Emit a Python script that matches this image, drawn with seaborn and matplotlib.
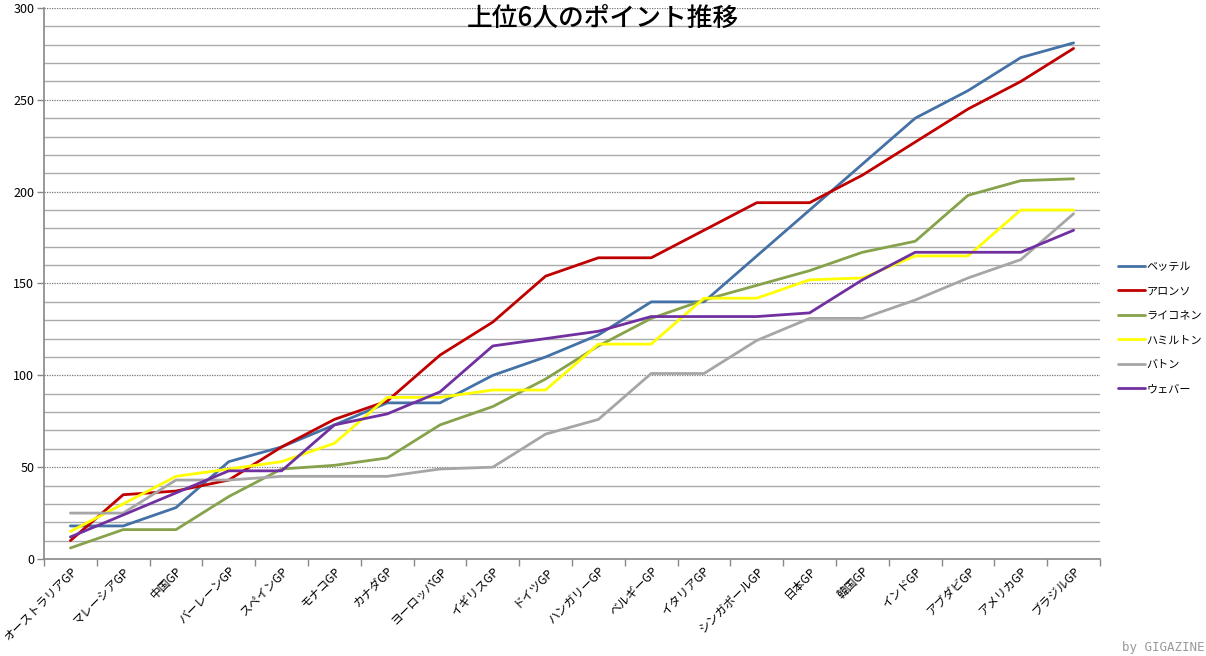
import matplotlib
matplotlib.use("Agg")
import matplotlib.pyplot as plt
from matplotlib.ticker import MultipleLocator, FixedLocator
from matplotlib.lines import Line2D
import seaborn as sns
import pandas as pd

races = ["オーストラリアGP", "マレーシアGP", "中国GP", "バーレーンGP", "スペインGP", "モナコGP",
         "カナダGP", "ヨーロッパGP", "イギリスGP", "ドイツGP", "ハンガリーGP", "ベルギーGP",
         "イタリアGP", "シンガポールGP", "日本GP", "韓国GP", "インドGP", "アブダビGP",
         "アメリカGP", "ブラジルGP"]

drivers = ["ベッテル", "アロンソ", "ライコネン", "ハミルトン", "バトン", "ウェバー"]

vettel = [18, 18, 28, 53, 61, 73, 85, 85, 100, 110, 122, 140, 140, 165, 190, 215, 240, 255, 273, 281]
alonso = [10, 35, 37, 43, 61, 76, 86, 111, 129, 154, 164, 164, 179, 194, 194, 209, 227, 245, 260, 278]
raikkonen = [6, 16, 16, 34, 49, 51, 55, 73, 83, 98, 116, 131, 141, 149, 157, 167, 173, 198, 206, 207]
hamilton = [15, 30, 45, 49, 53, 63, 88, 88, 92, 92, 117, 117, 142, 142, 152, 153, 165, 165, 190, 190]
button = [25, 25, 43, 43, 45, 45, 45, 49, 50, 68, 76, 101, 101, 119, 131, 131, 141, 153, 163, 188]
webber = [12, 24, 36, 48, 48, 73, 79, 91, 116, 120, 124, 132, 132, 132, 134, 152, 167, 167, 167, 179]

colors = ["#4471A6", "#C00000", "#86A24A", "#FFFF00", "#A6A6A6", "#7030A0"]

series = [vettel, alonso, raikkonen, hamilton, button, webber]
rows = []
for d, vals in zip(drivers, series):
    for i, v in enumerate(vals):
        rows.append({"race": i, "driver": d, "points": v})
df = pd.DataFrame(rows)

sns.set_theme(style="white")
plt.rcParams["font.family"] = ["Noto Sans CJK JP", "DejaVu Sans"]

fig = plt.figure(figsize=(12.06, 6.56), dpi=100)
ax = fig.add_axes([44 / 1206, 97 / 656, (1100 - 44) / 1206, (559 - 8) / 656])

sns.lineplot(data=df, x="race", y="points", hue="driver", hue_order=drivers,
             palette=colors, linewidth=2.0, ax=ax, legend=False, zorder=3)

ax.set_xlim(-0.5, len(races) - 0.5)
ax.set_ylim(0, 300)

# grid
ax.yaxis.set_major_locator(MultipleLocator(50))
ax.yaxis.set_minor_locator(MultipleLocator(10))
ax.grid(which="minor", axis="y", color="#AAAAAA", linestyle="-", linewidth=1.0, zorder=0)
ax.grid(which="major", axis="y", color="#777777", linestyle=(0, (1, 1)), linewidth=0.9, zorder=1)
ax.set_axisbelow(True)

# x ticks at category boundaries, labels at centers
ax.xaxis.set_major_locator(FixedLocator([i - 0.5 for i in range(len(races) + 1)]))
ax.set_xticklabels([])
ax.xaxis.set_minor_locator(FixedLocator(list(range(len(races)))))
ax.set_xticklabels(races, minor=True, rotation=45, ha="right", rotation_mode="anchor",
                   fontsize=8.5, color="black")
ax.tick_params(axis="x", which="major", length=5, width=1, color="#888888", direction="out", bottom=True)
ax.tick_params(axis="x", which="minor", length=0, pad=4)
ax.tick_params(axis="y", which="major", length=5, width=1, color="#888888", direction="out", left=True,
               labelsize=9, pad=2, labelcolor="black")
ax.tick_params(axis="y", which="minor", length=0)

for s in ["top", "right"]:
    ax.spines[s].set_visible(False)
ax.spines["left"].set_color("#888888")
ax.spines["bottom"].set_color("#888888")
ax.spines["left"].set_linewidth(1.2)
ax.spines["bottom"].set_linewidth(1.2)

ax.set_xlabel("")
ax.set_ylabel("")

fig.text(603 / 1206, 1 - 18 / 656, "上位6人のポイント推移", ha="center", va="center",
         fontsize=18.5, color="black", fontweight="medium")

# legend
handles = [Line2D([0], [0], color=c, linewidth=2.0) for c in colors]
fig.legend(handles, drivers, loc="center left", bbox_to_anchor=(1114 / 1206, 1 - 328 / 656),
           frameon=False, fontsize=8, handlelength=2.4, handletextpad=0.1, labelspacing=1.3,
           borderaxespad=0, labelcolor="black")

fig.text(1204 / 1206, 1 - 647 / 656, "by GIGAZINE", ha="right", va="center", fontsize=9,
         color="#999999", family="DejaVu Sans Mono")

fig.savefig("out.png", dpi=100)
